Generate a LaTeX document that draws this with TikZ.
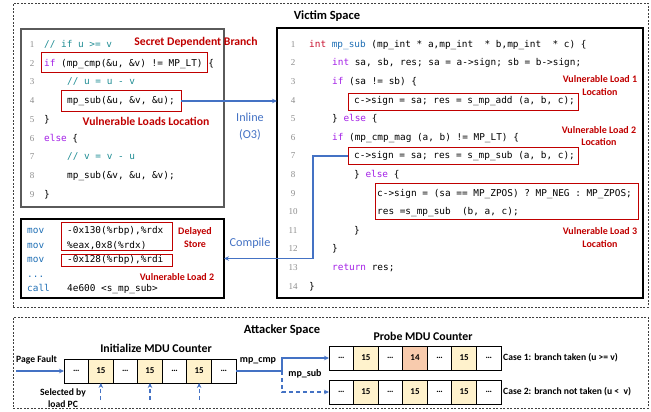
\documentclass[tikz,border=0pt]{standalone}
\usepackage{fontspec}
\setmainfont{Carlito}
\newfontfamily\monofam{DejaVu Sans Mono}
\newfontfamily\serifnum{Liberation Serif}
\usetikzlibrary{arrows.meta}

\definecolor{vred}{HTML}{C00000}
\definecolor{vblue}{HTML}{4472C4}
\definecolor{kwpurple}{HTML}{A31FE6}
\definecolor{cmtteal}{HTML}{1E8C93}
\definecolor{intred}{HTML}{C8102E}
\definecolor{fnblue}{HTML}{1F6FB5}
\definecolor{numgray}{HTML}{8C8C8C}
\definecolor{dashgray}{HTML}{404040}
\definecolor{framegray}{HTML}{5A5A5A}
\definecolor{cellyel}{HTML}{FFF2CC}
\definecolor{cellorg}{HTML}{F8CBAD}

\newcommand\codesize{\monofam\fontsize{9.4}{11}\selectfont}
\newcommand\kw[1]{\textcolor{kwpurple}{#1}}
\newcommand\cmt[1]{\textcolor{cmtteal}{#1}}
\newcommand\tint[1]{\textcolor{intred}{#1}}
\newcommand\cfn[1]{\textcolor{fnblue}{#1}}

\tikzset{
  codeline/.style={anchor=base west, inner sep=0pt, font=\codesize},
  lineno/.style={anchor=base, inner sep=0pt, font=\serifnum\fontsize{9}{10}\selectfont, text=numgray},
  codeframe/.style={draw=#1, line width=1.2pt, inner sep=0pt, outer sep=0pt, anchor=north west},
  redbox/.style={draw=vred, line width=1pt, inner sep=0pt, outer sep=0pt, anchor=north west},
  spacebox/.style={draw=dashgray, line width=0.8pt, dash pattern=on 2pt off 1.5pt, inner sep=0pt, anchor=north west},
  note/.style={text=vred, font=\bfseries\fontsize{10}{12.8}\selectfont, align=center, inner sep=0pt},
  bignote/.style={text=vred, font=\bfseries\fontsize{11.7}{13}\selectfont, inner sep=0pt},
  stepname/.style={text=vblue, font=\fontsize{12.2}{17}\selectfont, align=center, inner sep=0pt},
  flow/.style={draw=vblue, line width=1.1pt, -{Stealth[length=5pt,width=4.5pt]}},
  dflow/.style={flow, dash pattern=on 4pt off 3pt},
  cell/.style={draw, line width=0.8pt, minimum width=24.57pt, minimum height=24pt, anchor=west,
               inner sep=0pt, outer sep=0pt, font=\bfseries\fontsize{9}{9}\selectfont},
  lab/.style={font=\bfseries\fontsize{9.6}{12}\selectfont, inner sep=0pt, align=center},
  funclab/.style={font=\bfseries\fontsize{10}{12}\selectfont, inner sep=0pt},
  counterlab/.style={font=\bfseries\fontsize{11.8}{13}\selectfont, inner sep=0pt},
  title/.style={font=\bfseries\fontsize{12.5}{14}\selectfont, inner sep=0pt}
}

\begin{document}
\begin{tikzpicture}[x=1pt, y=-1pt]
\useasboundingbox (0,0) rectangle (651,412);

% ---------- outer regions ----------
\node[spacebox, minimum width=635pt, minimum height=304pt] (victim) at (13,3) {};
\node[spacebox, minimum width=635pt, minimum height=91pt] (attacker) at (13,317) {};
\node[title] (vtitle) at (327,16) {Victim Space};
\node[title] (atitle) at (282,330) {Attacker Space};

% ---------- source code (left) ----------
\node[codeframe=framegray, minimum width=203pt, minimum height=178pt] (srcbox) at (21,29) {};
\foreach \i/\yy in {1/47.3,2/66.05,3/84.8,4/103.55,5/122.3,6/141.05,7/159.8,8/178.55,9/197.3}
  \node[lineno] (ln\i) at (32,\yy) {\i};
\node[codeline] (l1) at (44,47.3)  {\cmt{// if u >= v}};
\node[codeline] (l2) at (44,66.05) {\kw{if} (mp\_cmp(\&u, \&v) != MP\_LT) \{};
\node[codeline] (l3) at (67,84.8)  {\cmt{// u = u - v}};
\node[codeline] (l4) at (67,103.55){mp\_sub(\&u, \&v, \&u);};
\node[codeline] (l5) at (44,122.3) {\}};
\node[codeline] (l6) at (44,141.05){\kw{else} \{};
\node[codeline] (l7) at (67,159.8) {\cmt{// v = v - u}};
\node[codeline] (l8) at (67,178.55){mp\_sub(\&v, \&u, \&v);};
\node[codeline] (l9) at (44,197.3) {\}};

\node[redbox, minimum width=166pt, minimum height=20pt] (lbox2) at (41,53) {};
\node[redbox, minimum width=120pt, minimum height=20pt] (lbox4) at (61,91) {};
\node[bignote] (secret) at (196,42) {Secret Dependent Branch};
\node[bignote] (vloads) at (146,121) {Vulnerable Loads Location};

% ---------- inlined function (right) ----------
\node[codeframe=black, minimum width=366pt, minimum height=270pt] (libbox) at (277,28) {};
\foreach \i/\yy in {1/47.3,2/65.9,3/84.5,4/103.1,5/121.7,6/140.3,7/158.9,8/177.5,9/196.1,10/214.7,11/233.3,12/251.9,13/270.5,14/289.1}
  \node[lineno] (rn\i) at (293,\yy) {\i};
\node[codeline] (r1)  at (309,47.3)  {\tint{int} \cfn{mp\_sub} (mp\_int * a,mp\_int~~* b,mp\_int~~* c) \{};
\node[codeline] (r2)  at (332,65.9)  {\kw{int} sa, sb, res; sa = a->sign; sb = b->sign;};
\node[codeline] (r3)  at (332,84.5)  {\kw{if} (sa != sb) \{};
\node[codeline] (r4)  at (354,103.1) {c->sign = sa; res = s\_mp\_add (a, b, c);};
\node[codeline] (r5)  at (332,121.7) {\} \kw{else} \{};
\node[codeline] (r6)  at (332,140.3) {\kw{if} (mp\_cmp\_mag (a, b) != MP\_LT) \{};
\node[codeline] (r7)  at (354,158.9) {c->sign = sa; res = s\_mp\_sub (a, b, c);};
\node[codeline] (r8)  at (354,177.5) {\} \kw{else} \{};
\node[codeline] (r9)  at (377,196.1) {c->sign = (sa == MP\_ZPOS) ? MP\_NEG : MP\_ZPOS;};
\node[codeline] (r10) at (377,214.7) {res =s\_mp\_sub~~(b, a, c);};
\node[codeline] (r11) at (354,233.3) {\}};
\node[codeline] (r12) at (332,251.9) {\}};
\node[codeline] (r13) at (332,270.5) {\kw{return} res;};
\node[codeline] (r14) at (309,289.1) {\}};

\node[redbox, minimum width=230pt, minimum height=16.5pt] (rbox4) at (348,93.5) {};
\node[redbox, minimum width=230pt, minimum height=17pt] (rbox7) at (348,147) {};
\node[redbox, minimum width=263pt, minimum height=36pt] (rbox9) at (375,183) {};
\node[note] (vl1) at (600,85.5) {Vulnerable Load 1\\Location};
\node[note] (vl2) at (599,136) {Vulnerable Load 2\\Location};
\node[note] (vl3) at (600,237.5) {Vulnerable Load 3\\Location};

% ---------- compiled code ----------
\node[codeframe=black, minimum width=203pt, minimum height=79pt] (asmbox) at (21,219) {};
\node[codeline, text=fnblue] (m1) at (27,233.3) {mov};
\node[codeline, text=fnblue] (m2) at (27,248.3) {mov};
\node[codeline, text=fnblue] (m3) at (27,262.8) {mov};
\node[codeline, text=fnblue] (m4) at (27,277.3) {...};
\node[codeline, text=fnblue] (m5) at (27,291.8) {call};
\node[codeline] (o1) at (67,233.3) {-0x130(\%rbp),\%rdx};
\node[codeline] (o2) at (67,248.3) {\%eax,0x8(\%rdx)};
\node[codeline] (o3) at (67,262.8) {-0x128(\%rbp),\%rdi};
\node[codeline] (o5) at (67,291.8) {4e600 <s\_mp\_sub>};
\node[redbox, minimum width=111pt, minimum height=28pt] (abox1) at (61,222) {};
\node[redbox, minimum width=111pt, minimum height=12pt] (abox2) at (61,254) {};
\node[note] (delayed) at (195,237.5) {Delayed\\Store};
\node[note] (avl2) at (177,277) {Vulnerable Load 2};

% ---------- transformations ----------
\draw[flow] (lbox4.east) -- (libbox.west |- lbox4.east);
\node[stepname] (inline) at (250,126.5) {Inline\\(O3)};
\coordinate (cturn) at (313,156);
\draw[flow] (rbox7.west |- cturn) -- (cturn) |- (asmbox.east);
\node[stepname] (compile) at (250,243) {Compile};

% ---------- MDU counters ----------
\node[counterlab] (initlab) at (156,348) {Initialize MDU Counter};
\node[counterlab] (probelab) at (423,336) {Probe MDU Counter};
\foreach \t/\c [count=\i] in {…/white,15/cellyel,…/white,15/cellyel,…/white,15/cellyel,…/white}
  \node[cell, fill=\c] (ic\i) at ({64+(\i-1)*24.57},371) {\t};
\foreach \t/\c [count=\i] in {…/white,15/cellyel,…/white,14/cellorg,…/white,15/cellyel,…/white}
  \node[cell, fill=\c] (pa\i) at ({329+(\i-1)*24.57},358) {\t};
\foreach \t/\c [count=\i] in {…/white,15/cellyel,…/white,15/cellyel,…/white,15/cellyel,…/white}
  \node[cell, fill=\c] (pb\i) at ({329+(\i-1)*24.57},392) {\t};

\coordinate (pfstart) at (16,371);
\draw[flow] (pfstart) -- (ic1.west);
\node[lab, anchor=west] (pf) at (16,360) {Page Fault};
\node[lab] (sel) at (63,398) {Selected by\\load PC};
\foreach \i in {2,4,6}
  \draw[dflow] ([yshift=-17pt]ic\i.south) -- (ic\i.south);

\coordinate (split) at (282,371);
\draw[draw=vblue, line width=1.1pt] (ic7.east) -- (split);
\draw[flow] (split) |- (pa1.west);
\draw[dflow] (split) |- (pb1.west);
\node[funclab] (cmp) at (258,361) {mp\_cmp};
\node[funclab] (sub) at (305,374) {mp\_sub};
\node[lab, anchor=west] (case1) at (503,358) {Case 1: branch taken (u >= v)};
\node[lab, anchor=west] (case2) at (503,392) {Case 2: branch not taken (u <\ \ v)};
\end{tikzpicture}
\end{document}
